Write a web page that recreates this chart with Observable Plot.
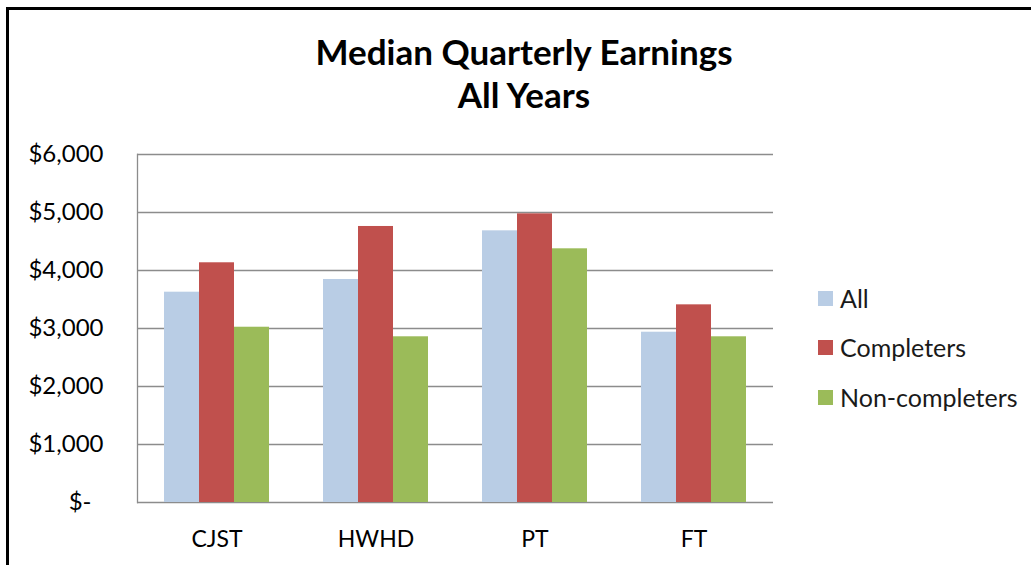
<!DOCTYPE html>
<html>
<head>
<meta charset="utf-8">
<script src="https://cdn.jsdelivr.net/npm/d3@7"></script>
<script src="https://cdn.jsdelivr.net/npm/@observablehq/plot@0.6"></script>
<style>
  html, body { margin: 0; padding: 0; background: #fff; }
  #wrap { position: relative; width: 1031px; height: 565px; overflow: hidden; font-family: Lato, "Open Sans", sans-serif; }
  #border { position: absolute; left: 6px; top: 7px; width: 1100px; height: 700px; border-left: 3px solid #000; border-top: 3px solid #000; box-sizing: border-box; }
  #title { position: absolute; left: 0; top: 30px; width: 1048px; text-align: center; font-weight: 700; font-size: 35px; line-height: 43px; color: #000; }
  #legend { position: absolute; left: 818px; top: 0; }
  .item { position: absolute; left: 0; white-space: nowrap; font-size: 25px; color: #1a1a1a; display: flex; align-items: center; height: 30px; }
  .sw { width: 15px; height: 15px; margin-right: 7px; }
  #chart { position: absolute; left: 0; top: 0; }
</style>
</head>
<body>
<div id="wrap">
  <div id="chart"></div>
  <div id="border"></div>
  <div id="title">Median Quarterly Earnings<br>All Years</div>
  <div id="legend"></div>
</div>
<script>
const categories = ["CJST", "HWHD", "PT", "FT"];
const seriesNames = ["All", "Completers", "Non-completers"];
const allValues = [3626, 3845, 4684, 2936];
const completersValues = [4133, 4759, 4977, 3408];
const nonCompletersValues = [3022, 2857, 4374, 2857];
const seriesColors = ["#B9CDE5", "#C0504D", "#9BBB59"];
const yTicks = [0, 1000, 2000, 3000, 4000, 5000, 6000];
const yTickLabels = ["$-\u2002", "$1,000", "$2,000", "$3,000", "$4,000", "$5,000", "$6,000"];

const seriesValues = [allValues, completersValues, nonCompletersValues];
const data = [];
categories.forEach((c, i) => {
  seriesNames.forEach((s, j) => {
    data.push({category: c, series: s, value: seriesValues[j][i]});
  });
});

const gridColor = "#8c8c8c";
const gap = 27; // half of the gap between facet groups

const chart = Plot.plot({
  width: 1031,
  height: 565,
  marginLeft: 136,
  marginRight: 256,
  marginTop: 154,
  marginBottom: 63,
  style: {fontFamily: "Lato, 'Open Sans', sans-serif", background: "transparent", color: "#000"},
  fx: {domain: categories, paddingInner: 0.3375, paddingOuter: 0.16875, label: null},
  x: {domain: seriesNames, padding: 0, axis: null},
  y: {domain: [0, 6000], axis: null},
  color: {domain: seriesNames, range: seriesColors},
  marks: [
    Plot.ruleY(yTicks, {y: d => d, stroke: gridColor, strokeWidth: 1.3, insetLeft: -gap, insetRight: -gap}),
    Plot.frame({anchor: "left", facetAnchor: "left", stroke: gridColor, strokeWidth: 1.3, insetLeft: -gap}),
    Plot.barY(data, {fx: "category", x: "series", y: "value", fill: "series"}),
    Plot.axisY(yTicks, {tickSize: 0, tickPadding: 34 + gap, fontSize: 24, tickFormat: (d) => yTickLabels[yTicks.indexOf(d)], label: null, fill: "#000"}),
    Plot.axisFx({anchor: "bottom", tickSize: 0, tickPadding: 28, fontSize: 23, label: null, fill: "#000"})
  ]
});
document.getElementById("chart").appendChild(chart);

const legend = document.getElementById("legend");
const legendY = [298, 347, 397];
seriesNames.forEach((s, i) => {
  const item = document.createElement("div");
  item.className = "item";
  item.style.top = (legendY[i] - 15) + "px";
  const sw = document.createElement("div");
  sw.className = "sw";
  sw.style.background = seriesColors[i];
  const t = document.createElement("span");
  t.textContent = s;
  item.appendChild(sw);
  item.appendChild(t);
  legend.appendChild(item);
});
</script>
</body>
</html>
